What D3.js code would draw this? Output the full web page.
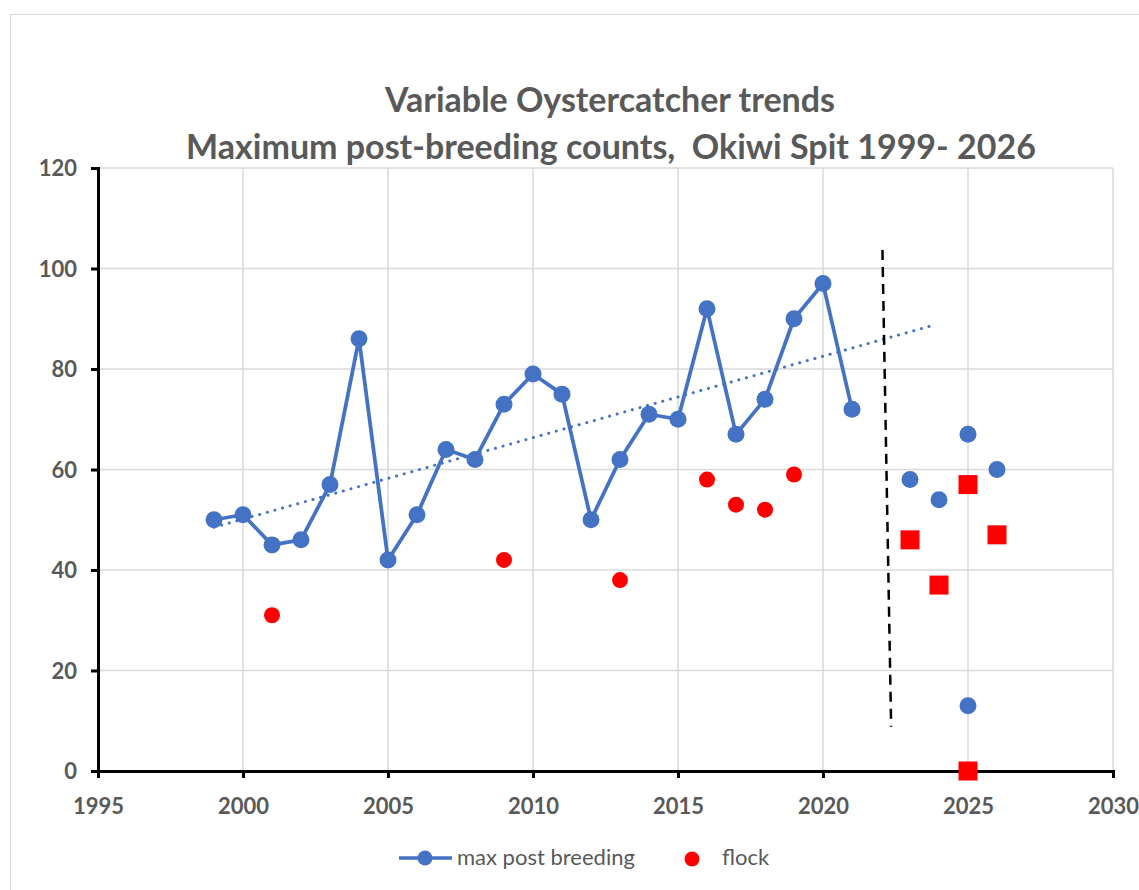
<!DOCTYPE html>
<html>
<head>
<meta charset="utf-8">
<script src="https://cdn.jsdelivr.net/npm/d3@7"></script>
<style>
  body { margin: 0; background: #fff; }
  text { font-family: Lato, "Open Sans", sans-serif; fill: #595959; }
  .tick text { font-weight: bold; font-size: 22px; }
</style>
</head>
<body>
<div id="chart"></div>
<script>
// data
var years = [1999, 2000, 2001, 2002, 2003, 2004, 2005, 2006, 2007, 2008, 2009, 2010,
             2011, 2012, 2013, 2014, 2015, 2016, 2017, 2018, 2019, 2020, 2021]
var maxPost = [50, 51, 45, 46, 57, 86, 42, 51, 64, 62, 73, 79,
               75, 50, 62, 71, 70, 92, 67, 74, 90, 97, 72]
var lateYears = [2023, 2024, 2025, 2025, 2026]
var lateMax = [58, 54, 67, 13, 60]
var flockYears = [2001, 2009, 2013, 2016, 2017, 2018, 2019]
var flock = [31, 42, 38, 58, 53, 52, 59]
var lateFlock = [46, 37, 57, 0, 47]
var trendYears = [1999, 2023.8]
var trendVals = [48.5, 88.7]
var divYears = [2022.05, 2022.35]
var divVals = [103.7, 8.8]
var xTicks = [1995, 2000, 2005, 2010, 2015, 2020, 2025, 2030]
var yTicks = [0, 20, 40, 60, 80, 100, 120]

var W = 1139, H = 890
var svg = d3.select("#chart").append("svg")
    .attr("width", W)
    .attr("height", H)

// chart frame
svg.append("rect")
    .attr("x", 10.5).attr("y", 14.5)
    .attr("width", W).attr("height", H)
    .attr("fill", "#fff")
    .attr("stroke", "#d9d9d9")
    .attr("stroke-width", 1)

var x = d3.scaleLinear().domain([1995, 2030]).range([98, 1113])
var y = d3.scaleLinear().domain([0, 120]).range([771, 168])

// title
svg.append("text")
    .attr("x", 610).attr("y", 112)
    .attr("text-anchor", "middle")
    .style("font-size", "34px").style("font-weight", "bold")
    .text("Variable Oystercatcher trends")
svg.append("text")
    .attr("x", 611).attr("y", 159)
    .attr("text-anchor", "middle")
    .style("font-size", "34px").style("font-weight", "bold")
    .attr("xml:space", "preserve")
    .text("Maximum post-breeding counts,  Okiwi Spit 1999- 2026")

// grid
svg.append("g")
    .selectAll("line.gy")
    .data(yTicks.slice(1))
    .enter()
    .append("line")
        .attr("x1", x(1995)).attr("x2", x(2030))
        .attr("y1", function(d) { return y(d) }).attr("y2", function(d) { return y(d) })
        .attr("stroke", "#d9d9d9").attr("stroke-width", 1.5)
svg.append("g")
    .selectAll("line.gx")
    .data(xTicks.slice(1))
    .enter()
    .append("line")
        .attr("x1", function(d) { return x(d) }).attr("x2", function(d) { return x(d) })
        .attr("y1", y(0)).attr("y2", y(120))
        .attr("stroke", "#d9d9d9").attr("stroke-width", 1.5)

// axes
var xAxis = svg.append("g")
    .attr("transform", "translate(0," + y(0) + ")")
    .call(d3.axisBottom(x).tickValues(xTicks).tickFormat(d3.format("d")).tickSize(7).tickPadding(20))
var yAxis = svg.append("g")
    .attr("transform", "translate(" + x(1995) + ",0)")
    .call(d3.axisLeft(y).tickValues(yTicks).tickSize(7).tickPadding(14))
;[xAxis, yAxis].forEach(function(a) {
    a.select(".domain").attr("stroke", "#000").attr("stroke-width", 3)
    a.selectAll(".tick line").attr("stroke", "#000").attr("stroke-width", 3)
    a.selectAll(".tick text").attr("fill", "#595959")
})
yAxis.selectAll(".tick text").attr("dy", "0.35em")

// trend line (dotted)
svg.append("line")
    .attr("x1", x(trendYears[0])).attr("y1", y(trendVals[0]))
    .attr("x2", x(trendYears[1])).attr("y2", y(trendVals[1]))
    .attr("stroke", "#4472c4").attr("stroke-width", 3)
    .attr("stroke-linecap", "round")
    .attr("stroke-dasharray", "0.1 7.8")

// divider (dashed)
svg.append("line")
    .attr("x1", x(divYears[0])).attr("y1", y(divVals[0]))
    .attr("x2", x(divYears[1])).attr("y2", y(divVals[1]))
    .attr("stroke", "#000").attr("stroke-width", 2.5)
    .attr("stroke-dasharray", "10 7")

// main series
var pts = years.map(function(d, i) { return [d, maxPost[i]] })
svg.append("path")
    .datum(pts)
    .attr("fill", "none")
    .attr("stroke", "#4472c4")
    .attr("stroke-width", 3.75)
    .attr("stroke-linejoin", "round")
    .attr("d", d3.line().x(function(d) { return x(d[0]) }).y(function(d) { return y(d[1]) }))

var blue = pts.concat(lateYears.map(function(d, i) { return [d, lateMax[i]] }))
svg.selectAll("circle.blue")
    .data(blue)
    .enter()
    .append("circle")
        .attr("cx", function(d) { return x(d[0]) })
        .attr("cy", function(d) { return y(d[1]) })
        .attr("r", 8.5)
        .attr("fill", "#4472c4")

// flock
svg.selectAll("circle.red")
    .data(flockYears.map(function(d, i) { return [d, flock[i]] }))
    .enter()
    .append("circle")
        .attr("cx", function(d) { return x(d[0]) })
        .attr("cy", function(d) { return y(d[1]) })
        .attr("r", 8)
        .attr("fill", "#ff0000")

svg.selectAll("rect.red")
    .data(lateYears.map(function(d, i) { return [d, lateFlock[i]] }))
    .enter()
    .append("rect")
        .attr("x", function(d) { return x(d[0]) - 9.5 })
        .attr("y", function(d) { return y(d[1]) - 9.5 })
        .attr("width", 19).attr("height", 19)
        .attr("fill", "#ff0000")

// legend
var lg = svg.append("g")
lg.append("line")
    .attr("x1", 399).attr("x2", 452).attr("y1", 858).attr("y2", 858)
    .attr("stroke", "#4472c4").attr("stroke-width", 3.5)
lg.append("circle").attr("cx", 425).attr("cy", 858).attr("r", 7.5).attr("fill", "#4472c4")
lg.append("text").attr("x", 457).attr("y", 865)
    .style("font-size", "22px").text("max post breeding")
lg.append("circle").attr("cx", 692).attr("cy", 859).attr("r", 7.5).attr("fill", "#ff0000")
lg.append("text").attr("x", 722).attr("y", 865)
    .style("font-size", "22px").text("flock")
</script>
</body>
</html>
